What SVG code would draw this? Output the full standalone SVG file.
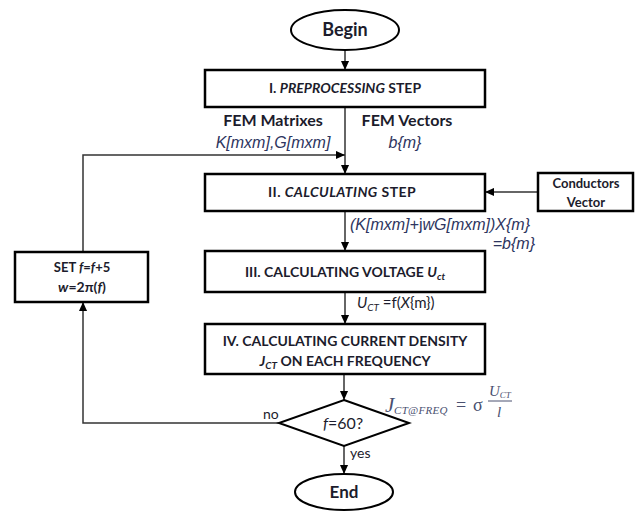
<svg xmlns="http://www.w3.org/2000/svg" width="642" height="512" viewBox="0 0 642 512">
<defs>
<marker id="arr" viewBox="0 0 10 10" refX="10" refY="5" markerWidth="9" markerHeight="9" markerUnits="userSpaceOnUse" orient="auto">
<path d="M0,0.5 L10,5 L0,9.5 z" fill="#000"/>
</marker>
</defs>
<style>
.box{fill:#fff;stroke:#000;stroke-width:2.5}
.term{fill:#fff;stroke:#000;stroke-width:2}
.edge{fill:none;stroke:#333;stroke-width:1.5;marker-end:url(#arr)}
text{font-family:Lato,"Liberation Sans",sans-serif;fill:#1c1c2c}
.b{font-weight:bold}
.t{font-size:14px;text-anchor:middle;font-weight:bold}
.c{text-anchor:middle}
.i{font-style:italic}
.m{font-family:"Liberation Sans",Arial,sans-serif;font-style:italic;fill:#2d3560;font-size:16px}
.f{font-family:"Liberation Serif",serif;fill:#4a5070}
</style>

<!-- connectors -->
<g id="connectors">
<path class="edge" d="M345,50 V70"/>
<path class="edge" d="M345,107 V174"/>
<path class="edge" d="M83,252 V155 H345"/>
<path class="edge" d="M538,192 H485"/>
<path class="edge" d="M345,211 V251"/>
<path class="edge" d="M345,292 V324"/>
<path class="edge" d="M344,374 V400"/>
<path class="edge" d="M279,423 H83 V302"/>
<path class="edge" d="M344,446 V474"/>
</g>

<g id="begin">
<ellipse class="term" cx="345" cy="30" rx="54" ry="20"/>
<text class="b c" x="345" y="36" font-size="18">Begin</text>
</g>

<g id="preprocessing">
<rect class="box" x="205" y="70" width="280" height="37"/>
<text class="t" x="345" y="93">I. <tspan class="i">PREPROCESSING</tspan> STEP</text>
</g>

<g id="fem-labels">
<text class="b c" x="273" y="126" font-size="16">FEM Matrixes</text>
<text class="m c" x="273" y="148">K[mxm],G[mxm]</text>
<text class="b c" x="407" y="126" font-size="16">FEM Vectors</text>
<text class="m c" x="405" y="148">b{m}</text>
</g>

<g id="calculating">
<rect class="box" x="205" y="174" width="280" height="37"/>
<text class="t" x="342" y="197" letter-spacing="0.4">II. <tspan class="i">CALCULATING</tspan> STEP</text>
</g>

<g id="conductors">
<rect class="box" x="538" y="173" width="95" height="38"/>
<text class="b c" x="586" y="188" font-size="13">Conductors</text>
<text class="b c" x="586" y="207" font-size="13">Vector</text>
</g>

<g id="system-label">
<text class="m" x="350" y="230">(K[mxm]+<tspan font-style="normal">j</tspan>wG[mxm])X{m}</text>
<text class="m" x="535" y="249" text-anchor="end">=b{m}</text>
</g>

<g id="voltage">
<rect class="box" x="205" y="251" width="280" height="41"/>
<text class="t" x="345" y="277">III. CALCULATING VOLTAGE <tspan class="i">U</tspan><tspan class="i" font-size="10" dy="3">ct</tspan></text>
</g>

<g id="voltage-label">
<text x="357" y="308" font-size="15" font-style="italic" fill="#2d3560">U<tspan font-size="10" dy="3">CT</tspan><tspan font-style="normal" dy="-3"> =f(</tspan>X<tspan font-style="normal">{m})</tspan></text>
</g>

<g id="current-density">
<rect class="box" x="205" y="324" width="280" height="50"/>
<text class="t" x="345" y="346">IV. CALCULATING CURRENT  DENSITY</text>
<text class="t" x="345" y="366"><tspan class="i">J</tspan><tspan class="i" font-size="10" dy="3">CT</tspan><tspan dy="-3"> ON EACH FREQUENCY</tspan></text>
</g>

<g id="decision">
<polygon class="term" points="344,400 409,423 344,446 279,423"/>
<text class="c" x="343" y="429" font-size="16"><tspan class="i">f</tspan>=60?</text>
<text x="263" y="419" font-size="14" fill="#333">no</text>
<text x="350" y="458" font-size="14" fill="#333">yes</text>
</g>

<g id="density-formula">
<text class="f i" x="385" y="412" font-size="21">J</text>
<text class="f i" x="394" y="414" font-size="11" letter-spacing="0.3">CT@FREQ</text>
<text class="f" x="456" y="411" font-size="18">=</text>
<text class="f" x="473" y="411" font-size="18">σ</text>
<text class="f i" x="489" y="396" font-size="15">U<tspan font-size="9" dy="2">CT</tspan></text>
<line x1="488" y1="401" x2="512" y2="401" stroke="#4a5070" stroke-width="1"/>
<text class="f i" x="497" y="417" font-size="15">l</text>
</g>

<g id="end">
<ellipse class="term" cx="344" cy="492" rx="49" ry="18"/>
<text class="b c" x="344" y="498" font-size="17">End</text>
</g>

<g id="set-frequency">
<rect class="box" x="15" y="252" width="133" height="50"/>
<text class="b c" x="82" y="272" font-size="13">SET <tspan class="i">f</tspan>=<tspan class="i">f</tspan>+5</text>
<text class="b c" x="82" y="292" font-size="14"><tspan class="i">w</tspan>=2π(<tspan class="i">f</tspan>)</text>
</g>
</svg>
